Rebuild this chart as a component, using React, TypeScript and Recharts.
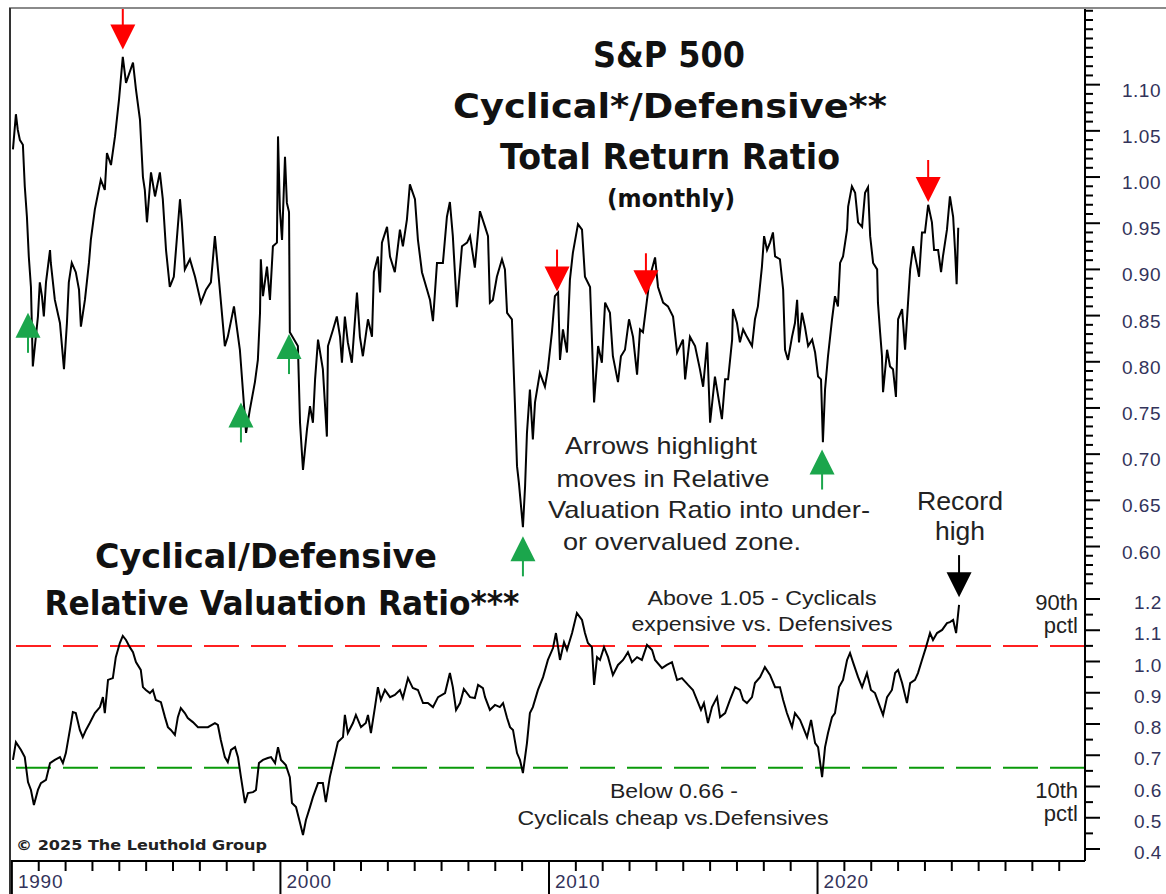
import { ComposedChart, Line, Scatter, XAxis, YAxis, ReferenceLine } from 'recharts';

// S&P 500 Cyclical/Defensive total return ratio, monthly (decimal year, ratio)
const totalReturnRatio: [number, number][] = [
  [1990.04, 1.030], [1990.15, 1.068], [1990.22, 1.051], [1990.30, 1.040], [1990.41, 1.035], [1990.48, 0.990],
  [1990.56, 0.957], [1990.63, 0.914], [1990.71, 0.881], [1990.78, 0.795], [1990.97, 0.849], [1991.04, 0.886],
  [1991.12, 0.871], [1991.19, 0.849], [1991.27, 0.886], [1991.42, 0.921], [1991.45, 0.907], [1991.60, 0.867],
  [1991.79, 0.842], [1991.94, 0.792], [1992.05, 0.842], [1992.12, 0.886], [1992.23, 0.907], [1992.38, 0.897],
  [1992.50, 0.878], [1992.57, 0.838], [1992.72, 0.867], [1992.87, 0.907], [1992.94, 0.932], [1993.09, 0.965],
  [1993.31, 0.997], [1993.46, 0.986], [1993.54, 1.026], [1993.69, 1.013], [1993.84, 1.044], [1993.99, 1.084],
  [1994.13, 1.130], [1994.25, 1.102], [1994.51, 1.124], [1994.62, 1.095], [1994.77, 1.062], [1994.88, 1.000],
  [1994.95, 0.986], [1995.03, 0.951], [1995.18, 1.005], [1995.33, 0.979], [1995.51, 1.005], [1995.62, 0.976],
  [1995.74, 0.921], [1995.88, 0.881], [1996.03, 0.892], [1996.26, 0.976], [1996.33, 0.951], [1996.44, 0.900],
  [1996.63, 0.911], [1996.82, 0.892], [1997.04, 0.864], [1997.23, 0.878], [1997.41, 0.886], [1997.56, 0.936],
  [1997.71, 0.889], [1997.93, 0.817], [1998.04, 0.827], [1998.27, 0.860], [1998.49, 0.813], [1998.60, 0.770],
  [1998.72, 0.723], [1998.86, 0.748], [1999.05, 0.778], [1999.16, 0.802], [1999.24, 0.853], [1999.27, 0.911],
  [1999.35, 0.871], [1999.50, 0.903], [1999.61, 0.867], [1999.72, 0.925], [1999.87, 0.929], [1999.91, 1.044],
  [1999.98, 0.965], [2000.06, 0.932], [2000.17, 1.022], [2000.24, 0.972], [2000.32, 0.962], [2000.35, 0.832],
  [2000.65, 0.817], [2000.73, 0.734], [2000.84, 0.683], [2000.99, 0.727], [2001.10, 0.752], [2001.21, 0.734],
  [2001.29, 0.781], [2001.40, 0.824], [2001.58, 0.792], [2001.73, 0.719], [2001.77, 0.817], [2001.96, 0.835],
  [2002.10, 0.849], [2002.22, 0.827], [2002.29, 0.799], [2002.40, 0.849], [2002.51, 0.821], [2002.66, 0.799],
  [2002.85, 0.875], [2002.96, 0.827], [2003.07, 0.806], [2003.26, 0.846], [2003.41, 0.827], [2003.48, 0.897],
  [2003.63, 0.914], [2003.71, 0.875], [2003.78, 0.929], [2003.97, 0.946], [2004.08, 0.914], [2004.26, 0.897],
  [2004.45, 0.943], [2004.56, 0.925], [2004.71, 0.954], [2004.82, 0.992], [2005.01, 0.976], [2005.12, 0.932],
  [2005.27, 0.897], [2005.46, 0.878], [2005.57, 0.867], [2005.68, 0.844], [2005.83, 0.907], [2006.05, 0.907],
  [2006.20, 0.957], [2006.31, 0.973], [2006.42, 0.936], [2006.57, 0.859], [2006.76, 0.925], [2006.95, 0.929],
  [2007.06, 0.936], [2007.24, 0.902], [2007.43, 0.963], [2007.62, 0.946], [2007.73, 0.936], [2007.80, 0.864],
  [2007.91, 0.867], [2008.06, 0.892], [2008.25, 0.911], [2008.36, 0.900], [2008.44, 0.853], [2008.62, 0.846],
  [2008.73, 0.756], [2008.81, 0.687], [2008.88, 0.669], [2009.03, 0.621], [2009.11, 0.665], [2009.18, 0.723],
  [2009.29, 0.770], [2009.40, 0.716], [2009.48, 0.756], [2009.66, 0.788], [2009.85, 0.773], [2009.96, 0.792],
  [2010.11, 0.832], [2010.22, 0.871], [2010.34, 0.875], [2010.41, 0.802], [2010.52, 0.835], [2010.67, 0.810],
  [2010.78, 0.889], [2010.89, 0.918], [2011.08, 0.949], [2011.23, 0.943], [2011.34, 0.892], [2011.53, 0.881],
  [2011.60, 0.824], [2011.68, 0.756], [2011.83, 0.817], [2011.97, 0.799], [2012.09, 0.864], [2012.27, 0.853],
  [2012.38, 0.806], [2012.57, 0.778], [2012.68, 0.806], [2012.83, 0.813], [2012.98, 0.846], [2013.13, 0.827],
  [2013.28, 0.786], [2013.39, 0.835], [2013.50, 0.832], [2013.65, 0.867], [2013.76, 0.892], [2013.95, 0.913],
  [2014.06, 0.881], [2014.25, 0.864], [2014.43, 0.860], [2014.62, 0.849], [2014.77, 0.810], [2014.99, 0.824],
  [2015.07, 0.781], [2015.25, 0.827], [2015.44, 0.817], [2015.62, 0.792], [2015.74, 0.773], [2015.89, 0.821],
  [2016.00, 0.734], [2016.18, 0.784], [2016.44, 0.738], [2016.56, 0.781], [2016.67, 0.781], [2016.82, 0.824],
  [2016.85, 0.857], [2017.00, 0.842], [2017.11, 0.821], [2017.23, 0.835], [2017.37, 0.827], [2017.56, 0.817],
  [2017.67, 0.846], [2017.78, 0.860], [2017.93, 0.903], [2018.01, 0.936], [2018.12, 0.921], [2018.23, 0.929],
  [2018.34, 0.940], [2018.42, 0.914], [2018.60, 0.911], [2018.72, 0.878], [2018.79, 0.813], [2018.90, 0.802],
  [2019.05, 0.827], [2019.16, 0.842], [2019.24, 0.867], [2019.31, 0.821], [2019.42, 0.853], [2019.53, 0.838],
  [2019.65, 0.817], [2019.80, 0.824], [2019.91, 0.810], [2020.02, 0.784], [2020.13, 0.781], [2020.20, 0.713],
  [2020.28, 0.770], [2020.39, 0.806], [2020.54, 0.846], [2020.65, 0.871], [2020.76, 0.860], [2020.84, 0.907],
  [2020.95, 0.914], [2021.10, 0.943], [2021.14, 0.968], [2021.28, 0.990], [2021.40, 0.983], [2021.51, 0.951],
  [2021.66, 0.946], [2021.77, 0.983], [2021.88, 0.989], [2021.96, 0.936], [2022.07, 0.907], [2022.22, 0.900],
  [2022.25, 0.864], [2022.33, 0.832], [2022.40, 0.806], [2022.44, 0.767], [2022.59, 0.813], [2022.70, 0.795],
  [2022.81, 0.792], [2022.92, 0.762], [2023.00, 0.846], [2023.15, 0.857], [2023.26, 0.813], [2023.37, 0.864],
  [2023.45, 0.900], [2023.56, 0.925], [2023.71, 0.903], [2023.78, 0.892], [2023.89, 0.940], [2024.00, 0.940],
  [2024.12, 0.970], [2024.26, 0.951], [2024.34, 0.921], [2024.49, 0.921], [2024.60, 0.897], [2024.67, 0.914],
  [2024.82, 0.943], [2024.93, 0.979], [2025.05, 0.957], [2025.12, 0.921], [2025.18, 0.884], [2025.24, 0.945],
];

// Cyclical/Defensive relative valuation ratio (decimal year, ratio)
const relativeValuation: [number, number][] = [
  [1990.04, 0.685], [1990.15, 0.742], [1990.34, 0.717], [1990.48, 0.694], [1990.60, 0.614], [1990.71, 0.589],
  [1990.82, 0.541], [1990.97, 0.589], [1991.08, 0.611], [1991.27, 0.621], [1991.42, 0.675], [1991.60, 0.685],
  [1991.79, 0.694], [1991.90, 0.675], [1992.01, 0.707], [1992.16, 0.781], [1992.27, 0.838], [1992.38, 0.835],
  [1992.53, 0.781], [1992.64, 0.758], [1992.76, 0.781], [1992.90, 0.803], [1993.09, 0.835], [1993.28, 0.854],
  [1993.39, 0.886], [1993.46, 0.835], [1993.58, 0.941], [1993.76, 0.947], [1993.87, 1.014], [1994.02, 1.059],
  [1994.13, 1.082], [1994.25, 1.069], [1994.39, 1.046], [1994.51, 1.030], [1994.62, 0.998], [1994.80, 0.973],
  [1994.88, 0.918], [1994.99, 0.909], [1995.14, 0.899], [1995.25, 0.909], [1995.36, 0.877], [1995.55, 0.870],
  [1995.70, 0.822], [1995.81, 0.790], [1995.92, 0.781], [1996.07, 0.765], [1996.18, 0.822], [1996.29, 0.851],
  [1996.44, 0.835], [1996.55, 0.819], [1996.74, 0.806], [1996.93, 0.790], [1997.30, 0.790], [1997.56, 0.803],
  [1997.67, 0.797], [1997.78, 0.749], [1997.93, 0.694], [1998.04, 0.678], [1998.16, 0.717], [1998.31, 0.726],
  [1998.42, 0.694], [1998.53, 0.630], [1998.68, 0.547], [1998.79, 0.579], [1998.98, 0.582], [1999.09, 0.589],
  [1999.20, 0.675], [1999.35, 0.685], [1999.53, 0.691], [1999.65, 0.694], [1999.80, 0.675], [1999.91, 0.726],
  [2000.02, 0.685], [2000.20, 0.669], [2000.35, 0.630], [2000.43, 0.547], [2000.58, 0.534], [2000.73, 0.483],
  [2000.84, 0.445], [2000.95, 0.493], [2001.10, 0.534], [2001.21, 0.566], [2001.40, 0.611], [2001.58, 0.611],
  [2001.69, 0.550], [2001.84, 0.630], [2001.96, 0.675], [2002.14, 0.742], [2002.33, 0.758], [2002.40, 0.829],
  [2002.51, 0.771], [2002.70, 0.803], [2002.81, 0.829], [2003.00, 0.790], [2003.18, 0.803], [2003.26, 0.829],
  [2003.37, 0.771], [2003.52, 0.854], [2003.63, 0.918], [2003.74, 0.877], [2003.89, 0.909], [2004.08, 0.886],
  [2004.26, 0.893], [2004.45, 0.909], [2004.56, 0.883], [2004.75, 0.947], [2004.93, 0.915], [2005.12, 0.909],
  [2005.31, 0.867], [2005.49, 0.867], [2005.68, 0.854], [2005.87, 0.886], [2006.13, 0.899], [2006.31, 0.963],
  [2006.42, 0.918], [2006.54, 0.845], [2006.69, 0.867], [2006.83, 0.912], [2007.06, 0.886], [2007.24, 0.883],
  [2007.36, 0.925], [2007.54, 0.915], [2007.62, 0.886], [2007.80, 0.845], [2007.99, 0.861], [2008.17, 0.854],
  [2008.29, 0.867], [2008.44, 0.819], [2008.55, 0.790], [2008.66, 0.781], [2008.81, 0.707], [2008.92, 0.685],
  [2009.03, 0.643], [2009.18, 0.739], [2009.29, 0.835], [2009.40, 0.854], [2009.59, 0.909], [2009.78, 0.950],
  [2009.96, 1.005], [2010.15, 1.043], [2010.26, 1.091], [2010.41, 1.005], [2010.56, 1.062], [2010.67, 1.037],
  [2010.86, 1.091], [2011.04, 1.155], [2011.23, 1.133], [2011.34, 1.091], [2011.45, 1.059], [2011.60, 1.046],
  [2011.68, 0.925], [2011.79, 1.014], [2011.90, 1.005], [2012.05, 1.046], [2012.20, 1.014], [2012.38, 0.957],
  [2012.57, 0.989], [2012.76, 1.005], [2012.94, 1.030], [2013.09, 0.998], [2013.28, 1.014], [2013.46, 1.005],
  [2013.65, 1.053], [2013.84, 1.037], [2013.95, 1.005], [2014.21, 0.979], [2014.39, 0.989], [2014.58, 0.998],
  [2014.77, 0.941], [2014.95, 0.947], [2015.18, 0.925], [2015.36, 0.909], [2015.51, 0.877], [2015.66, 0.845],
  [2015.77, 0.867], [2015.92, 0.803], [2016.07, 0.854], [2016.26, 0.886], [2016.37, 0.822], [2016.56, 0.835],
  [2016.74, 0.877], [2016.93, 0.918], [2017.11, 0.909], [2017.23, 0.877], [2017.37, 0.867], [2017.56, 0.886],
  [2017.67, 0.931], [2017.86, 0.950], [2018.04, 0.982], [2018.23, 0.957], [2018.42, 0.918], [2018.60, 0.918],
  [2018.72, 0.877], [2018.86, 0.835], [2019.05, 0.790], [2019.16, 0.835], [2019.35, 0.813], [2019.46, 0.790],
  [2019.61, 0.758], [2019.76, 0.813], [2019.91, 0.739], [2020.02, 0.726], [2020.17, 0.630], [2020.28, 0.726],
  [2020.39, 0.771], [2020.54, 0.822], [2020.65, 0.835], [2020.80, 0.918], [2020.95, 0.941], [2021.10, 1.005],
  [2021.21, 1.027], [2021.32, 0.998], [2021.51, 0.950], [2021.66, 0.918], [2021.84, 0.963], [2021.99, 0.909],
  [2022.14, 0.899], [2022.33, 0.854], [2022.44, 0.829], [2022.59, 0.886], [2022.77, 0.909], [2022.89, 0.963],
  [2023.00, 0.973], [2023.15, 0.931], [2023.33, 0.867], [2023.45, 0.931], [2023.63, 0.941], [2023.74, 0.963],
  [2023.89, 1.005], [2024.04, 1.046], [2024.19, 1.091], [2024.30, 1.069], [2024.45, 1.091], [2024.64, 1.101],
  [2024.82, 1.123], [2024.93, 1.126], [2025.05, 1.133], [2025.16, 1.091], [2025.20, 1.123], [2025.27, 1.181],
];

// arrow tips: moves into overvalued (red, down) / undervalued (green, up) zones
const sellSignals: [number, number][] = [[1994.13, 1.138], [2010.30, 0.876], [2013.61, 0.872], [2024.12, 0.973]];
const buySignals: [number, number][] = [[1990.60, 0.853], [1998.53, 0.756], [2000.32, 0.830], [2009.03, 0.611], [2020.17, 0.705]];
const recordHigh: [number, number][] = [[2025.27, 1.206]];

const topAxisLabels = [0.6, 0.65, 0.7, 0.75, 0.8, 0.85, 0.9, 0.95, 1.0, 1.05, 1.1];
const bottomAxisLabels = [0.4, 0.5, 0.6, 0.7, 0.8, 0.9, 1.0, 1.1, 1.2];
const decadeLabels = [1990, 2000, 2010, 2020];
const expensiveLevel = 1.05;
const cheapLevel = 0.66;

const xDomain: [number, number] = [1989.93, 2029.96];
const topDomain: [number, number] = [0.567, 1.183];
const bottomDomain: [number, number] = [0.3616, 1.2704];

const toRows = (pairs: [number, number][]) => pairs.map(([t, v]) => ({ t, v }));

const yearTicks = Array.from({ length: 40 }, (_, i) => 1990 + i);
const topTicks = Array.from({ length: 62 }, (_, i) => Math.round((0.57 + i * 0.01) * 100) / 100);
const bottomTicks = Array.from({ length: 18 }, (_, i) => Math.round((0.4 + i * 0.05) * 100) / 100);

const AXIS_TEXT = '#33335a';
const RED = '#ff0000';
const GREEN = '#1ba64c';

const isMajor = (labels: number[], v: number) => labels.some((l) => Math.abs(l - v) < 1e-6);

const rightTick = (labels: number[], digits: number, labelDx: number, labelDy: number) => (props: any) => {
  const { x, y, payload } = props;
  const major = isMajor(labels, payload.value);
  return (
    <g>
      <line x1={x} y1={y} x2={x + (major ? 15 : 8)} y2={y} stroke="#000" strokeWidth={2} />
      {major && (
        <text x={x + labelDx} y={y + labelDy} fill={AXIS_TEXT} fontFamily="Liberation Sans, Arial" fontSize={19} letterSpacing={0.5}>
          {payload.value.toFixed(digits)}
        </text>
      )}
    </g>
  );
};

const yearTick = (props: any) => {
  const { x, y, payload } = props;
  const decade = decadeLabels.includes(payload.value);
  return (
    <g>
      <line x1={x} y1={y} x2={x} y2={y + (decade ? 33 : 10)} stroke="#000" strokeWidth={2} />
      {decade && (
        <text x={x + 6} y={y + 27} fill={AXIS_TEXT} fontFamily="Liberation Sans, Arial" fontSize={19} letterSpacing={0.8}>
          {payload.value}
        </text>
      )}
    </g>
  );
};

const downArrow = (color: string) => (props: any) => {
  const { cx, cy } = props;
  return (
    <g>
      <line x1={cx} y1={cy - 42} x2={cx} y2={cy - 24} stroke={color} strokeWidth={2} />
      <polygon points={`${cx - 12.5},${cy - 25} ${cx + 12.5},${cy - 25} ${cx},${cy}`} fill={color} />
    </g>
  );
};

const upArrow = (color: string) => (props: any) => {
  const { cx, cy } = props;
  return (
    <g>
      <line x1={cx} y1={cy + 24} x2={cx} y2={cy + 40} stroke={color} strokeWidth={2} />
      <polygon points={`${cx - 12.5},${cy + 25} ${cx + 12.5},${cy + 25} ${cx},${cy}`} fill={color} />
    </g>
  );
};

const bold = { fontFamily: 'DejaVu Sans, sans-serif', fontWeight: 700, fill: '#111' } as const;
const plain = { fontFamily: 'Liberation Sans, Arial, sans-serif', fill: '#222' } as const;

const Annotations = () => (
  <svg width={1166} height={894} style={{ position: 'absolute', left: 0, top: 0, pointerEvents: 'none' }}>
    <line x1={9} y1={8} x2={1166} y2={8} stroke="#8a8a8a" strokeWidth={2} />
    <line x1={10} y1={8} x2={10} y2={894} stroke="#333" strokeWidth={2} />

    <text x={669} y={67} textAnchor="middle" fontSize={36} textLength={152} lengthAdjust="spacingAndGlyphs" {...bold}>S&amp;P 500</text>
    <text x={670} y={118} textAnchor="middle" fontSize={33} textLength={434} lengthAdjust="spacingAndGlyphs" {...bold}>Cyclical*/Defensive**</text>
    <text x={670} y={169} textAnchor="middle" fontSize={35} textLength={340} lengthAdjust="spacingAndGlyphs" {...bold}>Total Return Ratio</text>
    <text x={671} y={207} textAnchor="middle" fontSize={24} textLength={128} lengthAdjust="spacingAndGlyphs" {...bold}>(monthly)</text>

    <text x={266} y={568} textAnchor="middle" fontSize={33} textLength={342} lengthAdjust="spacingAndGlyphs" {...bold}>Cyclical/Defensive</text>
    <text x={282} y={615} textAnchor="middle" fontSize={33} textLength={475} lengthAdjust="spacingAndGlyphs" {...bold}>Relative Valuation Ratio***</text>

    <text x={661} y={454} textAnchor="middle" fontSize={24} textLength={192} lengthAdjust="spacingAndGlyphs" {...plain}>Arrows highlight</text>
    <text x={663} y={487} textAnchor="middle" fontSize={24} textLength={213} lengthAdjust="spacingAndGlyphs" {...plain}>moves in Relative</text>
    <text x={709} y={518} textAnchor="middle" fontSize={24} textLength={322} lengthAdjust="spacingAndGlyphs" {...plain}>Valuation Ratio into under-</text>
    <text x={682} y={550} textAnchor="middle" fontSize={24} textLength={238} lengthAdjust="spacingAndGlyphs" {...plain}>or overvalued zone.</text>

    <text x={960} y={510} textAnchor="middle" fontSize={26} textLength={86} lengthAdjust="spacingAndGlyphs" {...plain}>Record</text>
    <text x={960} y={540} textAnchor="middle" fontSize={26} textLength={50} lengthAdjust="spacingAndGlyphs" {...plain}>high</text>

    <text x={762} y={605} textAnchor="middle" fontSize={20} textLength={229} lengthAdjust="spacingAndGlyphs" {...plain}>Above 1.05 - Cyclicals</text>
    <text x={762} y={631} textAnchor="middle" fontSize={20} textLength={261} lengthAdjust="spacingAndGlyphs" {...plain}>expensive vs. Defensives</text>
    <text x={674} y={798} textAnchor="middle" fontSize={20} textLength={128} lengthAdjust="spacingAndGlyphs" {...plain}>Below 0.66 -</text>
    <text x={673} y={825} textAnchor="middle" fontSize={20} textLength={311} lengthAdjust="spacingAndGlyphs" {...plain}>Cyclicals cheap vs.Defensives</text>

    <text x={1078} y={610} textAnchor="end" fontSize={22} {...plain}>90th</text>
    <text x={1078} y={633} textAnchor="end" fontSize={22} {...plain}>pctl</text>
    <text x={1078} y={798} textAnchor="end" fontSize={22} {...plain}>10th</text>
    <text x={1078} y={821} textAnchor="end" fontSize={22} {...plain}>pctl</text>

    <text x={16} y={850} fontSize={14} textLength={251} lengthAdjust="spacingAndGlyphs" {...bold} fill="#222">© 2025 The Leuthold Group</text>
  </svg>
);

export default function App() {
  const topData = toRows(totalReturnRatio);
  const bottomData = toRows(relativeValuation);

  return (
    <div style={{ position: 'absolute', left: 0, top: 0, width: 1166, height: 894, background: '#fff', overflow: 'hidden' }}>
      <div style={{ position: 'absolute', left: 0, top: 0 }}>
        <ComposedChart width={1166} height={577} data={topData} margin={{ top: 8, right: 0, bottom: 0, left: 10 }}>
          <XAxis dataKey="t" type="number" domain={xDomain} hide />
          <YAxis
            orientation="right"
            type="number"
            domain={topDomain}
            ticks={topTicks}
            interval={0}
            width={81}
            tickSize={0}
            tickMargin={0}
            tickLine={false}
            axisLine={{ stroke: '#000', strokeWidth: 2 }}
            tick={rightTick(topAxisLabels, 2, 37, 12)}
          />
          <Line data={topData} dataKey="v" type="linear" stroke="#000" strokeWidth={2} dot={false} activeDot={false} isAnimationActive={false} />
          <Scatter data={toRows(sellSignals)} dataKey="v" shape={downArrow(RED)} isAnimationActive={false} />
          <Scatter data={toRows(buySignals)} dataKey="v" shape={upArrow(GREEN)} isAnimationActive={false} />
        </ComposedChart>
      </div>

      <div style={{ position: 'absolute', left: 0, top: 440 }}>
        <ComposedChart width={1166} height={454} data={bottomData} margin={{ top: 137, right: 0, bottom: 0, left: 10 }}>
          <XAxis
            dataKey="t"
            type="number"
            domain={xDomain}
            ticks={yearTicks}
            interval={0}
            height={33}
            tickSize={0}
            tickMargin={0}
            tickLine={false}
            axisLine={{ stroke: '#000', strokeWidth: 2 }}
            tick={yearTick}
          />
          <YAxis
            orientation="right"
            type="number"
            domain={bottomDomain}
            ticks={bottomTicks}
            interval={0}
            width={81}
            tickSize={0}
            tickMargin={0}
            tickLine={false}
            axisLine={{ stroke: '#000', strokeWidth: 2 }}
            tick={rightTick(bottomAxisLabels, 1, 49, 10)}
          />
          <ReferenceLine y={expensiveLevel} stroke="#ff2020" strokeWidth={2} strokeDasharray="35 12" />
          <ReferenceLine y={cheapLevel} stroke="#0a9a0a" strokeWidth={2} strokeDasharray="35 12" />
          <Line data={bottomData} dataKey="v" type="linear" stroke="#000" strokeWidth={2} dot={false} activeDot={false} isAnimationActive={false} />
          <Scatter data={toRows(recordHigh)} dataKey="v" shape={downArrow('#000')} isAnimationActive={false} />
        </ComposedChart>
      </div>

      <Annotations />
    </div>
  );
}
